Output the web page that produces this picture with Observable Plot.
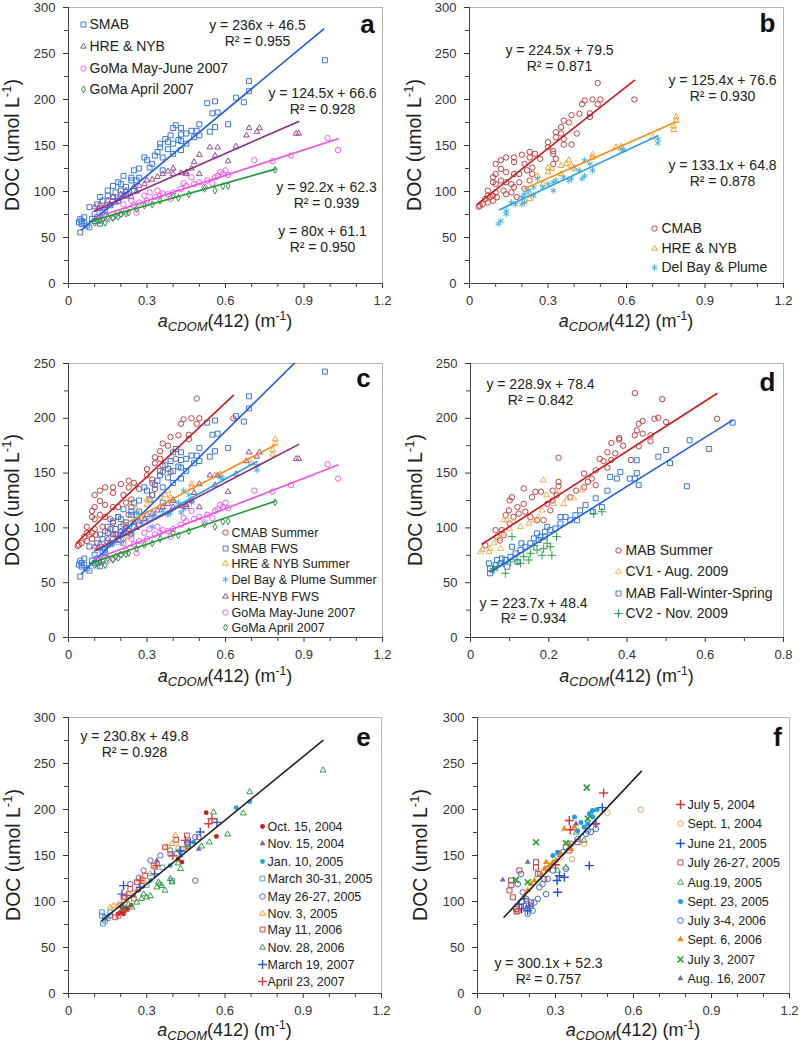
<!DOCTYPE html>
<html><head><meta charset="utf-8">
<script src="https://cdn.jsdelivr.net/npm/d3@7"></script>
<script src="https://cdn.jsdelivr.net/npm/@observablehq/plot@0.6"></script>
<style>
body{margin:0;background:#fff;}
#wrap{position:relative;width:800px;height:1047px;background:#fff;font-family:"Liberation Sans",Arial,sans-serif;}
.panel{position:absolute;}
</style></head><body><div id="wrap"></div>
<script>
// ---------- tick values ----------
const xMajor12 = [0, 0.3, 0.6, 0.9, 1.2];
const xMinor12 = [0.1, 0.2, 0.4, 0.5, 0.7, 0.8, 1.0, 1.1];
const xMajor08 = [0, 0.2, 0.4, 0.6, 0.8];
const xMinor08 = [0.1, 0.3, 0.5, 0.7];
const yMajor300 = [0, 50, 100, 150, 200, 250, 300];
const yMinor300 = [25, 75, 125, 175, 225, 275];
const yMajor250 = [0, 50, 100, 150, 200, 250];
const yMinor250 = [25, 75, 125, 175, 225];

// ---------- panel a ----------
const aSMAB = [[0.98,242.6],[0.69,220],[0.69,209],[0.67,197],[0.64,202],[0.56,198],[0.53,196],[0.55,185],[0.57,186],[0.56,170],[0.61,173],[0.54,165],[0.50,173],[0.47,166],[0.45,163],[0.41,172],[0.43,162],[0.39,161],[0.37,157],[0.40,152],[0.43,145],[0.35,148],[0.33,139],[0.36,137],[0.29,137],[0.31,126],[0.27,125],[0.25,123],[0.36,123],[0.21,117],[0.24,115],[0.26,112],[0.19,110],[0.20,108],[0.17,106],[0.15,101],[0.18,99],[0.12,94],[0.15,95.5],[0.11,86],[0.13,90],[0.08,83],[0.10,75.5],[0.06,72],[0.045,70],[0.04,66.5],[0.05,64.7],[0.07,63],[0.045,55.6],[0.10,68],[0.12,65],[0.08,61],[0.30,134],[0.32,130],[0.34,143],[0.38,146],[0.40,141],[0.42,156],[0.43,155],[0.45,152],[0.38,154],[0.35,152],[0.40,169],[0.43,169],[0.49,166],[0.48,159],[0.50,161],[0.24,112],[0.22,105],[0.20,101],[0.17,94],[0.19,90],[0.22,95.5],[0.25,101],[0.27,115],[0.05,68],[0.06,66],[0.09,70],[0.11,72],[0.14,80],[0.16,85],[0.13,78]];
const aHRE = [[0.87,163],[0.88,163],[0.73,169],[0.69,169],[0.68,161],[0.72,165],[0.64,149],[0.61,133],[0.54,148],[0.57,148],[0.56,139],[0.50,140],[0.48,132],[0.47,125],[0.45,121],[0.40,125],[0.40,119],[0.36,119],[0.34,116],[0.30,112],[0.27,106],[0.25,105],[0.22,101],[0.20,97],[0.17,94],[0.15,90],[0.12,86],[0.10,83],[0.115,81],[0.19,92],[0.21,96],[0.24,94],[0.16,86],[0.45,119],[0.50,119],[0.29,108],[0.32,113],[0.38,122],[0.43,120],[0.18,88],[0.23,98],[0.26,100],[0.14,84]];
const aGoMaMJ = [[1.03,145],[0.99,158],[0.85,139],[0.78,133],[0.71,134],[0.59,119],[0.60,123],[0.57,117],[0.56,115.5],[0.53,112],[0.50,110],[0.48,108],[0.45,106],[0.43,103],[0.40,99],[0.38,97],[0.35,95.5],[0.33,94],[0.30,90],[0.27,88],[0.25,85],[0.22,79],[0.20,75.5],[0.17,72],[0.15,70],[0.12,68],[0.26,77],[0.31,99],[0.47,115.5],[0.52,105],[0.55,109],[0.39,92],[0.34,101],[0.29,95.5],[0.58,121],[0.61,118],[0.44,109],[0.36,98],[0.24,90],[0.21,86]];
const aGoMaApr = [[0.79,123.5],[0.61,106],[0.59,105.7],[0.56,101],[0.52,103],[0.46,97],[0.42,93],[0.40,95.5],[0.35,90],[0.29,84.6],[0.26,81],[0.23,77],[0.20,75.5],[0.18,73.7],[0.15,72],[0.12,69],[0.11,67.6],[0.13,70],[0.17,71],[0.19,72.6],[0.22,76],[0.14,66],[0.10,66],[0.32,86]];
const aFitSMAB = [[0.05,58.3],[0.975,276.6]];
const aFitHRE = [[0.10,79.1],[0.88,176.2]];
const aFitGoMaMJ = [[0.10,71.5],[1.03,157.3]];
const aFitGoMaApr = [[0.08,67.5],[0.79,124.3]];

// ---------- panel b ----------
const bCMAB = [[0.63,200],[0.49,218],[0.47,200],[0.50,200],[0.44,199],[0.43,195],[0.49,195],[0.42,184.5],[0.46,181],[0.46,185],[0.41,163],[0.39,183],[0.38,175],[0.36,177],[0.35,170],[0.35,163],[0.33,164.5],[0.33,159],[0.36,157],[0.36,151],[0.39,151],[0.30,153.6],[0.30,148],[0.32,144],[0.32,141],[0.33,135.5],[0.32,130],[0.27,135.5],[0.25,141],[0.23,137],[0.23,143],[0.20,140],[0.17,137],[0.14,137],[0.12,134],[0.17,132],[0.21,130],[0.24,126],[0.22,123],[0.19,119],[0.17,119],[0.14,121],[0.12,124.6],[0.10,130],[0.10,119],[0.09,115.5],[0.09,110],[0.10,108],[0.12,112],[0.14,110],[0.16,108],[0.17,104.6],[0.19,110],[0.21,103],[0.23,112],[0.24,119],[0.14,97],[0.16,99],[0.18,94],[0.13,101],[0.07,101],[0.08,94],[0.09,90],[0.07,88],[0.05,86],[0.04,84.6],[0.035,83.5],[0.09,95.6],[0.105,93.7],[0.07,95.5],[0.06,92],[0.10,99]];
const bHRE = [[0.79,181],[0.79,177],[0.78,171],[0.78,167],[0.70,159],[0.58,149],[0.56,148],[0.47,140],[0.47,137],[0.38,134],[0.37,130],[0.39,128],[0.35,128],[0.30,126],[0.315,124.6],[0.30,121],[0.35,119],[0.40,124.6],[0.26,117],[0.28,108],[0.23,99],[0.23,92],[0.21,90]];
const bDel = [[0.72,157],[0.72,152.6],[0.59,145],[0.58,146],[0.46,130],[0.47,123],[0.44,117],[0.43,114],[0.42,123],[0.39,114],[0.38,112],[0.36,115.5],[0.33,112],[0.32,110],[0.30,108],[0.28,104.6],[0.26,114],[0.245,104.6],[0.225,101],[0.21,97],[0.20,94],[0.21,88],[0.20,86],[0.175,86],[0.16,88],[0.14,79],[0.14,75.5],[0.12,68],[0.11,65],[0.32,101],[0.40,126.5],[0.44,134],[0.245,95.5]];
const bFitCMAB = [[0.03,86.2],[0.63,220.9]];
const bFitHRE = [[0.21,103],[0.79,175.7]];
const bFitDel = [[0.115,80.1],[0.72,160.6]];

// ---------- panel d ----------
const dMAB = [[0.42,223],[0.49,217.5],[0.63,199.6],[0.47,199.6],[0.48,200.5],[0.50,196.6],[0.44,197.5],[0.43,195],[0.425,189],[0.44,186],[0.42,184.5],[0.46,184.5],[0.46,179],[0.38,182],[0.38,180.5],[0.36,177.5],[0.39,175],[0.43,174.5],[0.35,169],[0.37,168],[0.41,162],[0.36,162],[0.34,161],[0.32,152.6],[0.29,149.6],[0.31,145],[0.30,142],[0.29,137],[0.32,139],[0.225,164],[0.225,142],[0.225,138],[0.21,134],[0.22,130],[0.21,125],[0.196,122],[0.18,133],[0.166,133],[0.136,136],[0.157,128],[0.136,122],[0.12,119],[0.106,128],[0.10,125],[0.098,116],[0.09,111.6],[0.11,110],[0.123,113],[0.14,114.7],[0.153,110],[0.17,107],[0.187,107],[0.204,116],[0.08,98],[0.068,92],[0.085,93.5],[0.064,98],[0.038,84],[0.10,104],[0.075,88.5],[0.27,134],[0.255,128],[0.35,155],[0.33,163]];
const dCV1 = [[0.186,143.5],[0.285,134.4],[0.194,130],[0.225,133],[0.247,127],[0.213,122],[0.183,116],[0.174,110],[0.162,107],[0.149,104],[0.128,101],[0.11,105.6],[0.094,107],[0.085,107],[0.10,99],[0.085,95],[0.072,90],[0.06,86],[0.05,81],[0.03,80],[0.026,78],[0.047,78],[0.077,81],[0.238,122],[0.264,127]];
const dFWS = [[0.67,196],[0.56,180],[0.61,172],[0.50,171],[0.51,159],[0.48,165],[0.553,138],[0.425,161.7],[0.425,150],[0.43,139],[0.42,145],[0.407,145],[0.383,151],[0.374,145],[0.357,146.5],[0.35,134],[0.32,127],[0.336,119],[0.313,114.7],[0.294,120.8],[0.28,116],[0.268,111.6],[0.255,107],[0.243,110],[0.23,104],[0.217,99.5],[0.204,98],[0.19,96.5],[0.179,92],[0.17,95],[0.162,90.4],[0.153,86],[0.14,82.8],[0.128,79.8],[0.115,76.8],[0.102,73.7],[0.089,70.7],[0.077,67.7],[0.064,66],[0.05,63],[0.047,67.7],[0.05,58.6],[0.106,82.8],[0.13,86],[0.196,101],[0.23,110],[0.272,107],[0.19,92],[0.174,89],[0.08,72],[0.068,70.7],[0.094,64.6],[0.12,69]];
const dCV2 = [[0.336,114.7],[0.315,113],[0.208,75],[0.204,82.8],[0.187,81],[0.17,79.8],[0.153,76.8],[0.136,73.7],[0.119,70.7],[0.102,69],[0.085,67.7],[0.068,64.6],[0.06,63],[0.06,61.6],[0.089,58.6],[0.106,92],[0.149,70.7],[0.196,86],[0.22,92],[0.128,67.7],[0.162,84],[0.183,75]];
const dFitMAB = [[0.03,85.3],[0.63,222.6]];
const dFitFWS = [[0.05,59.6],[0.67,198.3]];

// ---------- panel e ----------
const eOct04 = [[0.528,196.5],[0.567,170.7],[0.435,142.8],[0.205,93.7],[0.198,88],[0.224,92],[0.211,86.5],[0.19,86.5],[0.455,159],[0.42,146],[0.24,96],[0.215,90]];
const eNov04 = [[0.499,157],[0.262,112],[0.339,144.6],[0.205,97],[0.43,150]];
const eJan05 = [[0.643,202],[0.695,208.5],[0.48,164.5],[0.428,153.6],[0.39,139],[0.314,122.8],[0.25,106.4],[0.46,160]];
const eMar05 = [[0.128,84.6],[0.132,76],[0.397,122.8],[0.16,88],[0.39,151.8],[0.416,151.8],[0.128,88.3],[0.15,82],[0.14,79],[0.30,118],[0.36,137]];
const eMay05 = [[0.486,122.8],[0.352,150],[0.39,155.5],[0.454,164.5],[0.486,170],[0.44,157],[0.288,133.7],[0.314,144.6],[0.237,119],[0.16,84.6],[0.14,82.8],[0.339,141],[0.499,170],[0.20,96],[0.27,126]];
const eNov05 = [[0.41,171.8],[0.397,162.7],[0.378,159],[0.42,159],[0.314,130],[0.288,122.8],[0.262,112],[0.237,106.4],[0.211,101],[0.173,95.5],[0.192,97],[0.16,93.7],[0.45,160],[0.33,137]];
const eMay06 = [[0.413,167],[0.326,139],[0.294,128],[0.262,121],[0.237,113.7],[0.211,104.6],[0.192,84.6],[0.224,92],[0.205,88.3],[0.179,82.8],[0.454,171.8],[0.37,159],[0.25,103],[0.28,117]];
const eNov06 = [[0.976,242.6],[0.695,219],[0.67,196],[0.61,173],[0.556,197],[0.54,164.5],[0.51,160],[0.43,135.5],[0.42,141.6],[0.397,121],[0.39,124.6],[0.358,117],[0.345,121],[0.339,115.5],[0.314,106],[0.30,104.6],[0.288,108],[0.262,99],[0.243,93.7],[0.23,97],[0.21,92],[0.35,119],[0.37,112],[0.28,103]];
const eMar07 = [[0.569,186],[0.211,117.3],[0.205,108],[0.505,175.5],[0.467,164.5],[0.275,115.5],[0.428,155.5],[0.33,130]];
const eApr07 = [[0.537,184.5],[0.448,166.4],[0.275,122.8],[0.339,139],[0.224,106.4],[0.55,190],[0.40,150]];
const eFit = [[0.128,79.3],[0.976,275.1]];

// ---------- panel f ----------
const fJul04 = [[0.485,218],[0.357,178],[0.353,188],[0.455,184.5],[0.30,140]];
const fSep04 = [[0.628,199.8],[0.50,196.5],[0.363,146],[0.41,162.7],[0.32,148]];
const fJun05 = [[0.43,139],[0.48,202],[0.308,110],[0.306,122.8],[0.334,126.4],[0.315,128],[0.16,97],[0.18,102.8],[0.193,90],[0.17,92],[0.20,95]];
const fJul05 = [[0.161,133.7],[0.225,142.8],[0.225,137],[0.129,122.8],[0.123,112],[0.136,104.6],[0.148,92],[0.155,90],[0.187,95.5],[0.257,124.6],[0.27,135.5],[0.353,155.5],[0.385,164.5],[0.232,130],[0.206,99],[0.13,118],[0.15,89]];
const fAug05 = [[0.41,166.4],[0.308,133.7],[0.34,137],[0.436,195],[0.38,175]];
const fSep05 = [[0.373,191.8],[0.443,199],[0.43,195.4],[0.424,184.5],[0.41,181],[0.385,177],[0.398,186],[0.308,153.6],[0.29,150],[0.443,191.8],[0.46,200]];
const fJul06 = [[0.193,86.5],[0.193,92],[0.206,95.5],[0.219,99],[0.232,102.8],[0.187,102.8],[0.174,110],[0.238,115.5],[0.264,108],[0.25,119],[0.27,124.6],[0.29,133.7],[0.34,135.5],[0.315,151.8],[0.328,153.6],[0.34,159],[0.36,162.7],[0.385,168],[0.417,173.6],[0.436,175.5],[0.455,179],[0.424,177],[0.155,119],[0.168,130],[0.212,90],[0.18,95],[0.24,130]];
const fSep06 = [[0.334,179],[0.373,181],[0.353,162.7],[0.36,157],[0.32,151.8],[0.302,144.6],[0.276,139],[0.257,135.5],[0.244,130],[0.219,122.8],[0.206,119],[0.193,112],[0.18,106.4],[0.27,133.7],[0.264,142.8],[0.29,142.8]];
const fJul07 = [[0.42,223.8],[0.225,164.5],[0.148,123.5],[0.193,121],[0.34,163.5],[0.424,190]];
const fAug07 = [[0.097,123.5],[0.193,142.8],[0.379,184.5],[0.455,184.5]];
const fFit = [[0.102,82.9],[0.63,241.4]];

// ---------- styles ----------
const C = {
  smab:"#3a78e0", smabL:"#1f5ee8", hreA:"#9a4a96", hreAL:"#8b2c85",
  mj:"#ee5ee8", mjL:"#f050e0", apr:"#2e9a3e", aprL:"#23963a",
  cmab:"#c44040", cmabL:"#cc1a1a", hreB:"#f5a23a", hreBL:"#f39018",
  del:"#3fb0e8", delL:"#2aa0e0", cv1:"#f5b060", cv2:"#2ea043"
};
const S = (name, pts, symbol, color, fill, r, sw) => ({name, pts, symbol, color, fill, r, sw: sw || 1});

function makePanel(cfg) {
  const marks = [];
  marks.push(Plot.frame({stroke:"#b5b5b5"}));
  marks.push(Plot.axisY(cfg.yMinor, {tickSize:4, tickFormat:() => "", color:"#444", label:null}));
  marks.push(Plot.axisY(cfg.yMajor, {tickSize:5, tickPadding:8, fontSize:13, color:"#333", label:null}));
  marks.push(Plot.axisX(cfg.xMinor, {tickSize:4, tickFormat:() => "", color:"#444", label:null}));
  marks.push(Plot.axisX(cfg.xMajor, {tickSize:5, tickPadding:7, fontSize:13, color:"#333", label:null, tickFormat:d => String(d)}));
  marks.push(Plot.ruleX([0], {stroke:"#444"}));
  marks.push(Plot.ruleY([0], {stroke:"#444"}));
  for (const s of cfg.series) {
    marks.push(Plot.dot(s.pts, {x:d => d[0], y:d => d[1], symbol:s.symbol, r:s.r,
      stroke:s.fill ? "none" : s.color, fill:s.fill ? s.color : "none", strokeWidth:s.sw}));
  }
  for (const l of cfg.lines) {
    marks.push(Plot.line(l.pts, {x:d => d[0], y:d => d[1], stroke:l.color, strokeWidth:1.6, clip:true}));
  }
  for (const e of cfg.eqs) {
    marks.push(Plot.text([e.text], {frameAnchor:"top-left", dx:e.dx, dy:e.dy, text:d => d,
      textAnchor:"middle", lineAnchor:"middle", fontSize:14, lineHeight:1.1, fill:"#222"}));
  }
  const lg = cfg.legend;
  lg.items.forEach((s, i) => {
    const dy = lg.rows[i];
    marks.push(Plot.dot([s], {frameAnchor:"top-left", dx:lg.mx, dy, symbol:s.symbol, r:s.r,
      stroke:s.fill ? "none" : s.color, fill:s.fill ? s.color : "none", strokeWidth:s.sw}));
    marks.push(Plot.text([s.name], {frameAnchor:"top-left", dx:lg.tx, dy, text:d => d,
      textAnchor:"start", lineAnchor:"middle", fontSize:lg.fontSize, fill:"#222"}));
  });
  marks.push(Plot.text([cfg.label.text], {frameAnchor:"top-right", dx:cfg.label.dx, dy:cfg.label.dy,
    text:d => d, textAnchor:"middle", lineAnchor:"middle", fontSize:26, fontWeight:"bold", fill:"#111"}));

  const m = cfg.margin;
  const svg = Plot.plot({
    width:cfg.width, height:cfg.height,
    marginLeft:m[0], marginRight:m[1], marginTop:m[2], marginBottom:m[3],
    x:{domain:cfg.xDomain, label:null},
    y:{domain:cfg.yDomain, label:null},
    style:{fontFamily:"'Liberation Sans', Arial, sans-serif", fontSize:"13px", color:"#333", background:"transparent", overflow:"visible"},
    marks
  });
  const sel = d3.select(svg);
  const fx0 = m[0], fx1 = cfg.width - m[1], fy0 = m[2], fy1 = cfg.height - m[3];
  // y title
  const yt = sel.append("text")
    .attr("transform", `translate(${cfg.yTitleX},${(fy0 + fy1) / 2}) rotate(-90)`)
    .attr("text-anchor", "middle").attr("font-size", 19.5).attr("fill", "#222")
    .attr("font-family", "'Liberation Sans', Arial, sans-serif");
  yt.append("tspan").text("DOC (umol L");
  yt.append("tspan").attr("font-size", 13).attr("dy", -8).text("-1");
  yt.append("tspan").attr("dy", 8).text(")");
  // x title
  const xt = sel.append("text")
    .attr("x", (fx0 + fx1) / 2).attr("y", cfg.xTitleY)
    .attr("text-anchor", "middle").attr("font-size", 18).attr("fill", "#222")
    .attr("font-family", "'Liberation Sans', Arial, sans-serif");
  xt.append("tspan").attr("font-style", "italic").text("a");
  xt.append("tspan").attr("font-style", "italic").attr("font-size", 13).attr("dy", 4).text("CDOM");
  xt.append("tspan").attr("dy", -4).text("(412) (m");
  xt.append("tspan").attr("font-size", 12).attr("dy", -7).text("-1");
  xt.append("tspan").attr("dy", 7).text(")");

  const div = document.createElement("div");
  div.className = "panel";
  div.style.left = cfg.left + "px";
  div.style.top = cfg.top + "px";
  div.appendChild(svg);
  document.getElementById("wrap").appendChild(div);
}

// ---- series definitions ----
const sSMAB = S("SMAB", aSMAB, "square", C.smab, false, 2.8);
const sHREa = S("HRE & NYB", aHRE, "triangle", C.hreA, false, 2.1);
const sMJ = S("GoMa May-June 2007", aGoMaMJ, "circle", C.mj, false, 2.7);
const sApr = S("GoMa April 2007", aGoMaApr, "diamond", C.apr, false, 2.1);
const sCMAB = S("CMAB", bCMAB, "circle", C.cmab, false, 2.7);
const sHREb = S("HRE & NYB", bHRE, "triangle", C.hreB, false, 2.2);
const sDel = S("Del Bay & Plume", bDel, "asterisk", C.del, false, 3);

// Panel a
makePanel({
  left:0, top:0, width:400, height:345, margin:[68,18,7,62],
  xDomain:[0,1.2], yDomain:[0,300], xMajor:xMajor12, xMinor:xMinor12, yMajor:yMajor300, yMinor:yMinor300,
  series:[sSMAB, sHREa, sMJ, sApr],
  lines:[{pts:aFitSMAB, color:C.smabL},{pts:aFitHRE, color:C.hreAL},{pts:aFitGoMaMJ, color:C.mjL},{pts:aFitGoMaApr, color:C.aprL}],
  eqs:[{text:"y = 236x + 46.5\nR² = 0.955", dx:189, dy:25.5},
       {text:"y = 124.5x + 66.6\nR² = 0.928", dx:254, dy:93.5},
       {text:"y = 92.2x + 62.3\nR² = 0.939", dx:258, dy:187.5},
       {text:"y = 80x + 61.1\nR² = 0.950", dx:254, dy:231.5}],
  legend:{items:[sSMAB, sHREa, sMJ, sApr], mx:15, tx:21, rows:[17,39,61,82], fontSize:14},
  label:{text:"a", dx:-15, dy:17}, yTitleX:19, xTitleY:327
});

// Panel b
makePanel({
  left:400, top:0, width:400, height:345, margin:[69,17,7,62],
  xDomain:[0,1.2], yDomain:[0,300], xMajor:xMajor12, xMinor:xMinor12, yMajor:yMajor300, yMinor:yMinor300,
  series:[sCMAB, sHREb, sDel],
  lines:[{pts:bFitCMAB, color:C.cmabL},{pts:bFitHRE, color:C.hreBL},{pts:bFitDel, color:C.delL}],
  eqs:[{text:"y = 224.5x + 79.5\nR² = 0.871", dx:90, dy:50.5},
       {text:"y = 125.4x + 76.6\nR² = 0.930", dx:253, dy:80.5},
       {text:"y = 133.1x + 64.8\nR² = 0.878", dx:253, dy:165.5}],
  legend:{items:[sCMAB, sHREb, sDel], mx:185, tx:192, rows:[221,241,260], fontSize:14},
  label:{text:"b", dx:-16, dy:16}, yTitleX:21, xTitleY:327
});

// Panel c
const cItems = [
  S("CMAB Summer", bCMAB, "circle", C.cmab, false, 2.7),
  S("SMAB FWS", aSMAB, "square", C.smab, false, 2.8),
  S("HRE & NYB Summer", bHRE, "triangle", C.hreB, false, 2.2),
  S("Del Bay & Plume Summer", bDel, "asterisk", C.del, false, 3),
  S("HRE-NYB FWS", aHRE, "triangle", C.hreA, false, 2.1),
  S("GoMa May-June 2007", aGoMaMJ, "circle", C.mj, false, 2.7),
  S("GoMa April 2007", aGoMaApr, "diamond", C.apr, false, 2.1)
];
makePanel({
  left:0, top:345, width:400, height:345, margin:[68,18,18,53],
  xDomain:[0,1.2], yDomain:[0,250], xMajor:xMajor12, xMinor:xMinor12, yMajor:yMajor250, yMinor:yMinor250,
  series:cItems,
  lines:[{pts:bFitCMAB, color:C.cmabL},{pts:aFitSMAB, color:C.smabL},{pts:bFitHRE, color:C.hreBL},{pts:bFitDel, color:C.delL},
         {pts:aFitHRE, color:C.hreAL},{pts:aFitGoMaMJ, color:C.mjL},{pts:aFitGoMaApr, color:C.aprL}],
  eqs:[],
  legend:{items:cItems, mx:157, tx:163, rows:[169,185,200,216,233,249,264], fontSize:12.5},
  label:{text:"c", dx:-19, dy:15}, yTitleX:19, xTitleY:337
});

// Panel d
const dItems = [
  S("MAB Summer", dMAB, "circle", C.cmab, false, 2.7),
  S("CV1 - Aug. 2009", dCV1, "triangle", C.cv1, false, 2.2),
  S("MAB Fall-Winter-Spring", dFWS, "square", C.smab, false, 2.8),
  S("CV2 - Nov. 2009", dCV2, "plus", C.cv2, false, 2.8)
];
makePanel({
  left:400, top:345, width:400, height:345, margin:[70,17,18,53],
  xDomain:[0,0.8], yDomain:[0,250], xMajor:xMajor08, xMinor:xMinor08, yMajor:yMajor250, yMinor:yMinor250,
  series:dItems,
  lines:[{pts:dFitMAB, color:C.cmabL},{pts:dFitFWS, color:C.smabL}],
  eqs:[{text:"y = 228.9x + 78.4\nR² = 0.842", dx:70, dy:28.5},
       {text:"y = 223.7x + 48.4\nR² = 0.934", dx:63, dy:247}],
  legend:{items:dItems, mx:148, tx:155, rows:[187,208,230,250], fontSize:14},
  label:{text:"d", dx:-16, dy:19}, yTitleX:22, xTitleY:337
});

// Panel e
const eItems = [
  S("Oct. 15, 2004", eOct04, "circle", "#d81818", true, 2.4),
  S("Nov. 15, 2004", eNov04, "triangle", "#7a68a8", true, 2.2),
  S("Jan. 10, 2005", eJan05, "circle", "#2aa3d8", true, 2.4),
  S("March 30-31, 2005", eMar05, "square", "#4aa3b8", false, 2.7),
  S("May 26-27, 2005", eMay05, "circle", "#5a64c8", false, 2.7),
  S("Nov. 3, 2005", eNov05, "triangle", "#f5a030", false, 2.2),
  S("May 11, 2006", eMay06, "square", "#d84040", false, 2.7),
  S("Nov. 28, 2006", eNov06, "triangle", "#30a045", false, 2.2),
  S("March 19, 2007", eMar07, "plus", "#2a5ae0", false, 3, 1.4),
  S("April 23, 2007", eApr07, "plus", "#e04040", false, 3, 1.4)
];
makePanel({
  left:0, top:690, width:400, height:357, margin:[68,19,27,54],
  xDomain:[0,1.2], yDomain:[0,300], xMajor:xMajor12, xMinor:xMinor12, yMajor:yMajor300, yMinor:yMinor300,
  series:eItems,
  lines:[{pts:eFit, color:"#222"}],
  eqs:[{text:"y = 230.8x + 49.8\nR² = 0.928", dx:66, dy:26.5}],
  legend:{items:eItems, mx:194, tx:199, rows:[109,126,144,161,179,196,212,230,247,264], fontSize:12.5},
  label:{text:"e", dx:-18, dy:20}, yTitleX:20, xTitleY:346
});

// Panel f
const fItems = [
  S("July 5, 2004", fJul04, "plus", "#e0303a", false, 3, 1.4),
  S("Sept. 1, 2004", fSep04, "circle", "#e8a050", false, 2.7),
  S("June 21, 2005", fJun05, "plus", "#1f4fe0", false, 3, 1.4),
  S("July 26-27, 2005", fJul05, "square", "#c84040", false, 2.8),
  S("Aug.19, 2005", fAug05, "triangle", "#40a040", false, 2.2),
  S("Sept. 23, 2005", fSep05, "circle", "#1f9fdf", true, 2.5),
  S("July 3-4, 2006", fJul06, "circle", "#3f6fd8", false, 2.8),
  S("Sept. 6, 2006", fSep06, "triangle", "#f08a10", true, 2.4),
  S("July 3, 2007", fJul07, "times", "#1fa52f", false, 2.8, 1.6),
  S("Aug. 16, 2007", fAug07, "triangle", "#8060a8", true, 2.2)
];
makePanel({
  left:400, top:690, width:400, height:357, margin:[77,11,27,54],
  xDomain:[0,1.2], yDomain:[0,300], xMajor:xMajor12, xMinor:xMinor12, yMajor:yMajor300, yMinor:yMinor300,
  series:fItems,
  lines:[{pts:fFit, color:"#222"}],
  eqs:[{text:"y = 300.1x + 52.3\nR² = 0.757", dx:71, dy:253.5}],
  legend:{items:fItems, mx:203, tx:210, rows:[87,106,126,145,165,184,203,222,242,261], fontSize:12.5},
  label:{text:"f", dx:-12, dy:20}, yTitleX:27, xTitleY:346
});
</script></body></html>
